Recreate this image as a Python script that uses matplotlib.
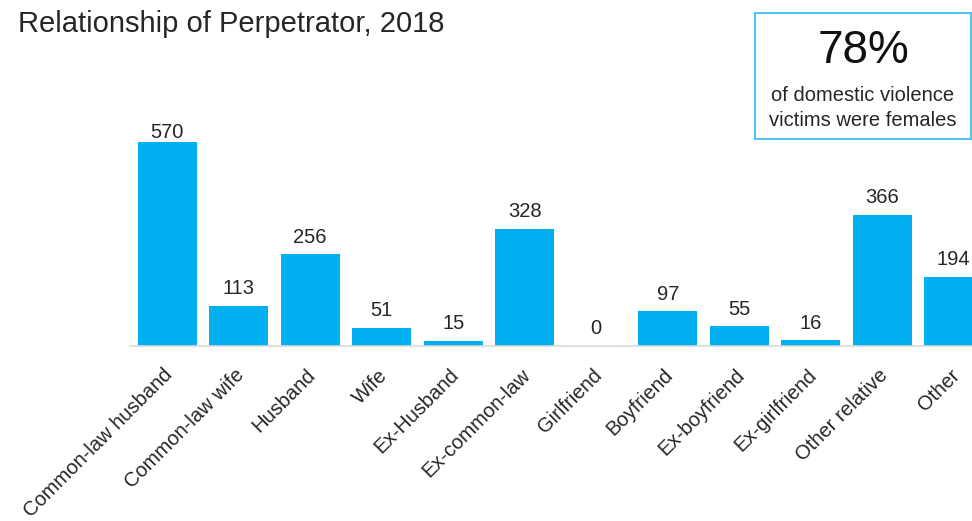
import matplotlib.pyplot as plt
import matplotlib.transforms as mtransforms
from matplotlib.patches import Rectangle

categories = ['Common-law husband', 'Common-law wife', 'Husband', 'Wife', 'Ex-Husband',
              'Ex-common-law', 'Girlfriend', 'Boyfriend', 'Ex-boyfriend', 'Ex-girlfriend',
              'Other relative', 'Other']
counts = [570, 113, 256, 51, 15, 328, 0, 97, 55, 16, 366, 194]

title = 'Relationship of Perpetrator, 2018'
callout_value = '78%'
callout_text = 'of domestic violence\nvictims were females'

plt.rcParams['font.family'] = ['Liberation Sans', 'DejaVu Sans']

W, H = 972, 521
fig = plt.figure(figsize=(W / 100, H / 100), dpi=100)

# axes runs past the right edge so the last bar is cut like in the original
ax = fig.add_axes([130 / W, (H - 346) / H, 866.6 / W, 214.7 / H])
x = list(range(len(categories)))
bars = ax.bar(x, counts, width=0.83, color='#00b0f0')
ax.set_xlim(-0.52, 11.6)
ax.set_ylim(0, 600)

top = max(counts)
for b, v in zip(bars, counts):
    # the tallest label sits tight on its bar in the original
    off = 0 if v == top else 5.5
    ax.annotate(str(v), (b.get_x() + b.get_width() / 2, v), xytext=(0, off),
                textcoords='offset points', ha='center', va='bottom',
                fontsize=14.5, color='#262626')

for s in ['top', 'right', 'left']:
    ax.spines[s].set_visible(False)
ax.spines['bottom'].set_color('#d9d9d9')
ax.spines['bottom'].set_linewidth(1.2)
ax.set_yticks([])
ax.set_xticks(x)
ax.set_xticklabels(categories, rotation=45, ha='right', rotation_mode='anchor',
                   fontsize=14.5, color='#262626')
ax.tick_params(axis='x', length=0, pad=14)
shift = mtransforms.ScaledTranslation(-4 / 100, 0, fig.dpi_scale_trans)
for lab in ax.get_xticklabels():
    lab.set_transform(lab.get_transform() + shift)

fig.text(18 / W, 1 - 32 / H, title, fontsize=21, color='#262626', va='baseline')

# callout box
fig.patches.append(Rectangle((755 / W, 1 - 139 / H), 216 / W, 126 / H,
                             transform=fig.transFigure, fill=False,
                             edgecolor='#2db8ee', linewidth=1.2))
fig.text(863 / W, 1 - 63 / H, callout_value, fontsize=33, ha='center',
         va='baseline', color='#111111')
fig.text(863 / W, 1 - 108 / H, callout_text, fontsize=14.5, ha='center',
         va='center', color='#262626', linespacing=1.45)

fig.savefig('out.png', dpi=100)
